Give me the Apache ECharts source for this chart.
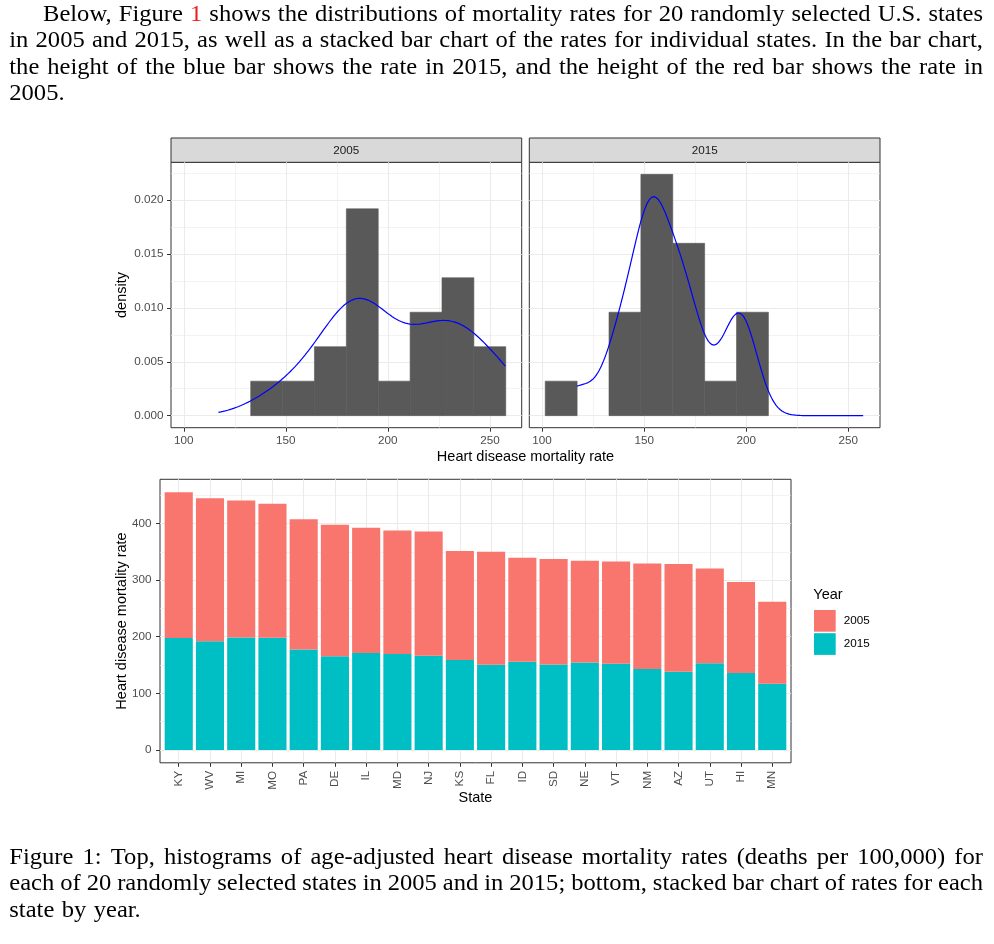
<!DOCTYPE html>
<html><head><meta charset="utf-8">
<script src="https://cdn.jsdelivr.net/npm/echarts@6/dist/echarts.min.js"></script>
<style>html,body{margin:0;padding:0;background:#fff}#c{width:994px;height:944px}</style>
</head><body><div id="c"></div>
<script>
// ---------------- data ----------------
const states = ['KY','WV','MI','MO','PA','DE','IL','MD','NJ','KS','FL','ID','SD','NE','VT','NM','AZ','UT','HI','MN'];
const rate2005 = [257.6,252.9,241.7,236.7,230.1,232.3,221.1,218.2,219.4,192.4,199.5,183.6,186.0,179.5,180.6,186.4,190.1,167.6,160.6,144.7];
const rate2015 = [197.7,191.8,198.8,198.0,177.6,165.3,171.2,169.4,166.4,158.8,150.5,155.8,151.1,154.6,152.3,143.0,138.2,152.9,135.9,117.0];
const years = ['2005','2015'];
const histXTicks = [100,150,200,250];
const histXMinor = [125,175,225];
const histYTicks = [0,0.005,0.010,0.015,0.020];
const histYMinor = [0.0025,0.0075,0.0125,0.0175,0.0225];
const barYTicks = [0,100,200,300,400];
const barYMinor = [50,150,250,350,450];
const paragraphLines = [
  'Below, Figure |1| shows the distributions of mortality rates for 20 randomly selected U.S. states',
  'in 2005 and 2015, as well as a stacked bar chart of the rates for individual states. In the bar chart,',
  'the height of the blue bar shows the rate in 2015, and the height of the red bar shows the rate in',
  '2005.'
];
const captionLines = [
  'Figure 1: Top, histograms of age-adjusted heart disease mortality rates (deaths per 100,000) for',
  'each of 20 randomly selected states in 2005 and in 2015; bottom, stacked bar chart of rates for each',
  'state by year.'
];

// ---------------- stats (ggplot-like) ----------------
const allVals = rate2005.concat(rate2015);
const xLo = Math.min(...allVals), xHi = Math.max(...allVals);
const nBins = 10;
const binW = (xHi - xLo) / (nBins - 1);
const boundary = binW / 2;
const origin = boundary + Math.floor((xLo - boundary) / binW) * binW;
const edges = [];
for (let e = origin; e <= xHi + binW * (1 - 1e-8); e += binW) edges.push(e);

function histogram(vals) {
  const out = [];
  for (let k = 0; k < edges.length - 1; k++) {
    const a = edges[k], b = edges[k + 1];
    const c = vals.filter(v => (v > a || (k === 0 && v >= a)) && v <= b).length;
    if (c > 0) out.push([a, b, c / (vals.length * binW)]);
  }
  return out;
}
function quantile(s, p) { const h = (s.length - 1) * p, lo = Math.floor(h); return s[lo] + (h - lo) * ((s[lo + 1] ?? s[lo]) - s[lo]); }
function bwNrd0(x) {
  const n = x.length, m = x.reduce((a, b) => a + b, 0) / n;
  const sd = Math.sqrt(x.reduce((a, b) => a + (b - m) * (b - m), 0) / (n - 1));
  const s = x.slice().sort((a, b) => a - b);
  const iqr = quantile(s, 0.75) - quantile(s, 0.25);
  return 0.9 * Math.min(sd, iqr / 1.34) * Math.pow(n, -0.2);
}
function kde(x) {
  const h = bwNrd0(x), n = x.length, pts = [];
  for (let i = 0; i < 512; i++) {
    const t = xLo + (xHi - xLo) * i / 511;
    let s = 0;
    for (const v of x) { const z = (t - v) / h; s += Math.exp(-0.5 * z * z); }
    pts.push([t, s / (n * h * Math.sqrt(2 * Math.PI))]);
  }
  return pts;
}
const hist05 = histogram(rate2005), hist15 = histogram(rate2015);
const dens05 = kde(rate2005), dens15 = kde(rate2015);
const dMax = Math.max(...hist05.concat(hist15).map(b => b[2]));
const hxMin = edges[0] - 0.05 * (edges[edges.length - 1] - edges[0]);
const hxMax = edges[edges.length - 1] + 0.05 * (edges[edges.length - 1] - edges[0]);
const totals = rate2005.map((v, i) => v + rate2015[i]);
const tMax = Math.max(...totals);

// ---------------- styling ----------------
const SANS = '"Liberation Sans", Arial, sans-serif';
const SERIF = '"Liberation Serif", "Times New Roman", serif';
const TICK = 11.7, TITLE = 14.5;
const gray30 = '#4D4D4D', gray20 = '#333333', gridC = '#EBEBEB';
const unit = 631 / (states.length + 0.2);
const G = [
  { left: 171, top: 162.3, width: 350.7, height: 265.4, show: true },
  { left: 529.3, top: 162.3, width: 350.7, height: 265.4, show: true },
  { left: 160, top: 479.3, width: 631, height: 283.5, show: true },
  { left: 160 + 0.1 * unit, top: 479.3, width: states.length * unit, height: 283.5, show: false }
];

function majorAxis(extra) {
  return Object.assign({
    type: 'value', axisLine: { show: false, onZero: false },
    axisTick: { show: true, length: 4, lineStyle: { color: gray20, width: 1 } },
    axisLabel: { show: true, color: gray30, fontSize: TICK, fontFamily: SANS },
    splitLine: { show: true, lineStyle: { color: gridC, width: 1.1 } }
  }, extra);
}
function minorAxis(extra, vals) {
  return Object.assign({
    type: 'value', axisLine: { show: false, onZero: false },
    axisTick: { show: false, customValues: vals },
    axisLabel: { show: false },
    splitLine: { show: true, customValues: vals, lineStyle: { color: gridC, width: 0.6 } }
  }, extra);
}
function withTicks(ax, vals, fmt, labels) {
  ax.axisTick.customValues = vals;
  ax.axisLabel.customValues = vals;
  ax.splitLine.customValues = vals;
  if (fmt) ax.axisLabel.formatter = fmt;
  if (labels === false) { ax.axisTick.show = false; ax.axisLabel.show = false; }
  return ax;
}

const xAxes = [
  withTicks(majorAxis({ gridIndex: 0, min: hxMin, max: hxMax }), histXTicks, v => String(v)),
  minorAxis({ gridIndex: 0, min: hxMin, max: hxMax }, histXMinor),
  withTicks(majorAxis({ gridIndex: 1, min: hxMin, max: hxMax }), histXTicks, v => String(v)),
  minorAxis({ gridIndex: 1, min: hxMin, max: hxMax }, histXMinor),
  withTicks(majorAxis({ gridIndex: 2, min: 0.4, max: states.length + 0.6 }), states.map((s, i) => i + 1), v => states[Math.round(v) - 1]),
  { type: 'category', gridIndex: 3, data: states, show: false, boundaryGap: true, axisLine: { onZero: false } }
];
xAxes.forEach(a => { if (a.axisLabel && a.axisLabel.show) a.axisLabel.margin = 7; });
xAxes[4].axisLabel.rotate = 90;
xAxes[4].axisLabel.margin = 8;
xAxes[4].axisLabel.verticalAlign = 'middle';

const yAxes = [
  withTicks(majorAxis({ gridIndex: 0, min: -0.05 * dMax, max: 1.05 * dMax }), histYTicks, v => v.toFixed(3)),
  minorAxis({ gridIndex: 0, min: -0.05 * dMax, max: 1.05 * dMax }, histYMinor),
  withTicks(majorAxis({ gridIndex: 1, min: -0.05 * dMax, max: 1.05 * dMax }), histYTicks, null, false),
  minorAxis({ gridIndex: 1, min: -0.05 * dMax, max: 1.05 * dMax }, histYMinor),
  withTicks(majorAxis({ gridIndex: 2, min: -0.05 * tMax, max: 1.05 * tMax }), barYTicks, v => String(v)),
  minorAxis({ gridIndex: 2, min: -0.05 * tMax, max: 1.05 * tMax }, barYMinor),
  { type: 'value', gridIndex: 3, min: -0.05 * tMax, max: 1.05 * tMax, show: false, splitLine: { show: false } }
];
yAxes[0].axisLabel.margin = 7.5;
yAxes[4].axisLabel.margin = 8.5;

function histRender(params, api) {
  const p0 = api.coord([api.value(0), api.value(2)]);
  const p1 = api.coord([api.value(1), 0]);
  return { type: 'rect', shape: { x: p0[0], y: p0[1], width: p1[0] - p0[0], height: p1[1] - p0[1] },
    style: { fill: '#595959', stroke: '#595959', lineWidth: 0.6 } };
}

const series = [
  { type: 'custom', xAxisIndex: 0, yAxisIndex: 0, renderItem: histRender, data: hist05, encode: { x: [0, 1], y: 2 }, silent: true, z: 2 },
  { type: 'line', xAxisIndex: 0, yAxisIndex: 0, data: dens05, symbol: 'none', showSymbol: false, lineStyle: { color: '#0000FF', width: 1.2 }, z: 3, silent: true },
  { type: 'custom', xAxisIndex: 2, yAxisIndex: 2, renderItem: histRender, data: hist15, encode: { x: [0, 1], y: 2 }, silent: true, z: 2 },
  { type: 'line', xAxisIndex: 2, yAxisIndex: 2, data: dens15, symbol: 'none', showSymbol: false, lineStyle: { color: '#0000FF', width: 1.2 }, z: 3, silent: true },
  { name: years[1], type: 'bar', stack: 'total', xAxisIndex: 5, yAxisIndex: 6, barWidth: '90%', data: rate2015, itemStyle: { color: '#00BFC4' } },
  { name: years[0], type: 'bar', stack: 'total', xAxisIndex: 5, yAxisIndex: 6, barWidth: '90%', data: rate2005, itemStyle: { color: '#F8766D' } }
];

// ---------------- text (graphic) ----------------
const graphics = [];
const cv = document.createElement('canvas').getContext('2d');
function measure(t, size) { cv.font = size + 'px ' + SERIF; return cv.measureText(t).width; }
function textEl(t, x, y, font, fill, align, valign, rot, sx) {
  return { type: 'text', x: x, y: y, rotation: rot || 0, scaleX: sx || 1, silent: true,
    style: { text: t, font: font, fill: fill, align: align, textAlign: align, verticalAlign: valign, textVerticalAlign: valign } };
}
const FS = 22.5, XR = 983;
const justLines = [[paragraphLines[0], 43], [paragraphLines[1], 9.3], [paragraphLines[2], 9.3], [captionLines[0], 9.3], [captionLines[1], 9.3]];
// horizontal stretch so that Liberation Serif approximates Computer Modern widths
let sxSum = 0;
justLines.forEach(([l, x0]) => {
  const w = l.replace(/\|/g, '').split(' ');
  const tot = w.reduce((a, b) => a + measure(b, FS), 0);
  sxSum += (XR - x0 - (w.length - 1) * 0.33 * FS) / tot;
});
const SX = sxSum / justLines.length;
function setLine(line, x0, x1, baseline, size, justify) {
  const words = line.split(' ').map(w => w.startsWith('|') ? { t: w.replace(/\|/g, ''), c: '#EE1C1C' } : { t: w, c: '#000' });
  const ws = words.map(w => measure(w.t, size) * SX);
  const tot = ws.reduce((a, b) => a + b, 0);
  const sp = justify && words.length > 1 ? (x1 - x0 - tot) / (words.length - 1) : 0.33 * size;
  let x = x0;
  words.forEach((w, i) => {
    graphics.push(textEl(w.t, x, baseline - 0.34 * size, size + 'px ' + SERIF, w.c, 'left', 'middle', 0, SX));
    x += ws[i] + sp;
  });
}
setLine(paragraphLines[0], 43, XR, 22.7, FS, true);
setLine(paragraphLines[1], 9.3, XR, 49.2, FS, true);
setLine(paragraphLines[2], 9.3, XR, 75.7, FS, true);
setLine(paragraphLines[3], 9.3, XR, 101.8, FS, false);
setLine(captionLines[0], 9.3, XR, 865.5, FS, true);
setLine(captionLines[1], 9.3, XR, 892, FS, true);
setLine(captionLines[2], 9.3, XR, 918.3, FS, false);

// strips
[[G[0], years[0]], [G[1], years[1]]].forEach(([g, t]) => {
  graphics.push({ type: 'rect', silent: true, shape: { x: g.left, y: 138, width: g.width, height: g.top - 138 },
    style: { fill: '#D9D9D9', stroke: gray20, lineWidth: 1 } });
  graphics.push(textEl(t, g.left + g.width / 2, 150.3, TICK + 'px ' + SANS, '#1A1A1A', 'center', 'middle'));
});
// axis titles
graphics.push(textEl('density', 121.5, 295, TITLE + 'px ' + SANS, '#000', 'center', 'middle', Math.PI / 2));
graphics.push(textEl('Heart disease mortality rate', 525.5, 456.5, TITLE + 'px ' + SANS, '#000', 'center', 'middle'));
graphics.push(textEl('Heart disease mortality rate', 121.5, 621, TITLE + 'px ' + SANS, '#000', 'center', 'middle', Math.PI / 2));
graphics.push(textEl('State', 475.5, 798, TITLE + 'px ' + SANS, '#000', 'center', 'middle'));
graphics.push(textEl('Year', 813.3, 595, TITLE + 'px ' + SANS, '#000', 'left', 'middle'));

const chart = echarts.init(document.getElementById('c'), null, { renderer: 'canvas' });
chart.setOption({
  animation: false,
  backgroundColor: '#ffffff',
  grid: G.map(g => Object.assign({ borderColor: gray20, borderWidth: 1, backgroundColor: 'transparent', containLabel: false, outerBoundsMode: 'none' }, g)),
  xAxis: xAxes,
  yAxis: yAxes,
  legend: {
    data: [years[0], years[1]], orient: 'vertical', left: 814, top: 610,
    itemWidth: 21.7, itemHeight: 21.7, itemGap: 1.5, icon: 'rect', selectedMode: false, padding: 0,
    textStyle: { fontFamily: SANS, fontSize: TICK, color: '#000', padding: [0, 0, 0, 3] }
  },
  series: series,
  graphic: graphics
});
</script></body></html>
